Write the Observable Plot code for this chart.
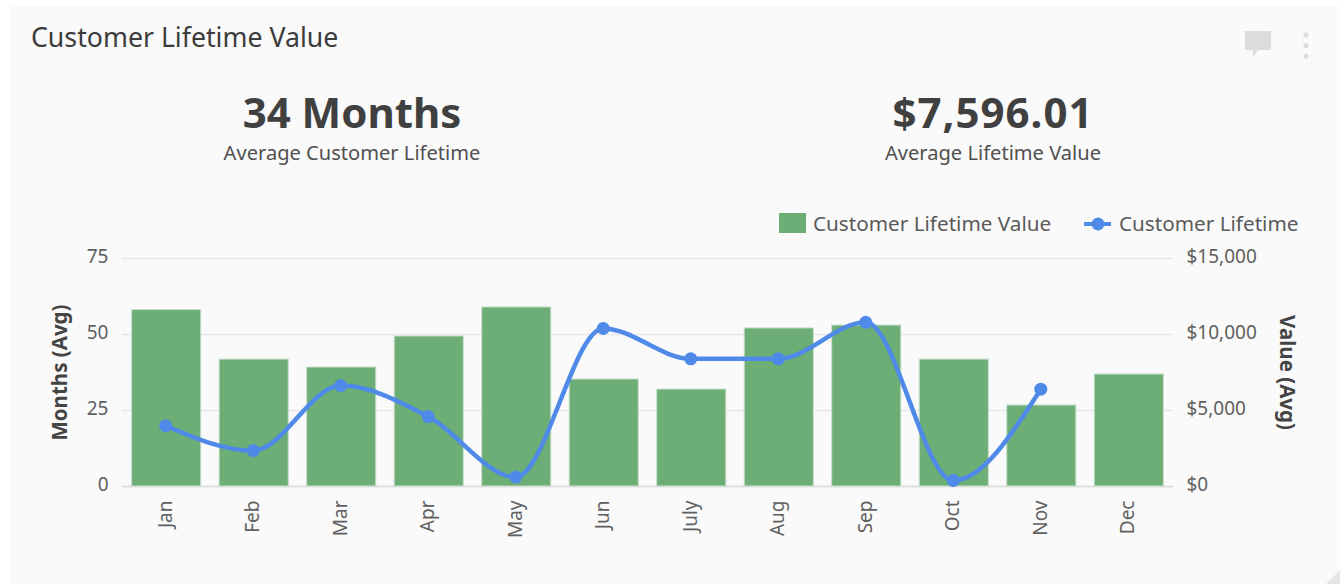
<!DOCTYPE html>
<html><head><meta charset="utf-8">
<script src="https://cdn.jsdelivr.net/npm/d3@7"></script>
<script src="https://cdn.jsdelivr.net/npm/@observablehq/plot@0.6"></script>
<style>
html,body{margin:0;padding:0;background:#fff;width:1340px;height:584px;overflow:hidden}
body{font-family:"Noto Sans",sans-serif;position:relative}
#card{position:absolute;left:9px;top:6px;width:1331px;height:578px;background:#fafafa}
.t{position:absolute;white-space:nowrap}
#title{left:31px;top:19px;font-size:26.7px;color:#3c3c3c;line-height:36px}
.kpi{font-weight:700;font-size:42px;color:#404040;line-height:50px;transform:translateX(-50%)}
.sub{font-size:20.1px;color:#505050;line-height:26px;transform:translateX(-50%)}
.leg{font-size:20.7px;color:#5a5a5a;line-height:26px;top:210px}
#chart{position:absolute;left:0;top:240px}
svg.ic{position:absolute}
</style></head><body>
<div id="card"></div>
<div class="t" id="title">Customer Lifetime Value</div>
<div class="t kpi" style="left:352px;top:87px">34 Months</div>
<div class="t sub" style="left:352px;top:140px">Average Customer Lifetime</div>
<div class="t kpi" style="left:993px;top:87px;letter-spacing:1px">$7,596.01</div>
<div class="t sub" style="left:993px;top:140px">Average Lifetime Value</div>
<svg class="ic" style="left:1240px;top:27px" width="80" height="34">
<path d="M5 4H31V23H18L13 30V23H5Z" fill="#dcdcdc"/>
<circle cx="66" cy="8" r="2.6" fill="#dcdcdc"/><circle cx="66" cy="18.5" r="2.6" fill="#dcdcdc"/><circle cx="66" cy="29" r="2.6" fill="#dcdcdc"/>
</svg>
<svg class="ic" style="left:779px;top:213px" width="28" height="20"><rect width="27" height="20" fill="#6dae76"/></svg>
<div class="t leg" style="left:813px">Customer Lifetime Value</div>
<svg class="ic" style="left:1084px;top:213px" width="28" height="20"><line x1="0" x2="27" y1="11" y2="11" stroke="#4f8ae8" stroke-width="4"/><circle cx="14" cy="11" r="6.5" fill="#4f8ae8"/></svg>
<div class="t leg" style="left:1119px">Customer Lifetime</div>
<svg class="ic" style="left:1324px;top:568px" width="16" height="16"><path d="M16 2V16H2Z" fill="#e6e6e6"/></svg>
<div id="chart"></div>
<script>
const months = ["Jan","Feb","Mar","Apr","May","Jun","July","Aug","Sep","Oct","Nov","Dec"];
const lifetimeValue = [11610,8350,7830,9870,11780,7040,6380,10400,10590,8350,5330,7370];
const lifetimeMonths = [20,11.8,33.2,23,3.1,52,42,42,54,2,32,null];
const leftTicks = [0,25,50,75];
const toMonths = v => v * 75 / 15000;
const rows = months.map((m,i)=>({m, value: lifetimeValue[i], life: lifetimeMonths[i]}));
const lineRows = rows.filter(d=>d.life!=null);
const tickFill = "#606060";
const plot = Plot.plot({
  width:1340, height:320,
  marginLeft:122, marginRight:167, marginTop:18, marginBottom:74,
  style:{background:"transparent", fontFamily:"'Noto Sans',sans-serif", fontSize:"17px"},
  x:{domain:months, paddingInner:0.21, paddingOuter:0.11, round:false, label:null},
  y:{domain:[0,75], label:null},
  marks:[
    Plot.gridY(leftTicks,{stroke:"#e8e8e8", strokeOpacity:1, strokeWidth:1.5}),
    Plot.ruleY([0],{stroke:"#dcdcdc", strokeWidth:1.5}),
    Plot.barY(rows,{x:"m", y:d=>toMonths(d.value), fill:"#6dae76", stroke:"#c9dfcc", strokeWidth:1}),
    Plot.line(lineRows,{x:"m", y:"life", dx:-1, stroke:"#4f8ae8", strokeWidth:4.5, curve:"monotone-x"}),
    Plot.dot(lineRows,{x:"m", y:"life", dx:-1, fill:"#4f8ae8", r:6.5}),
    Plot.axisX({tickSize:0, tickRotate:-90, tickPadding:14, dx:-1, label:null, fill:tickFill, fontSize:19}),
    Plot.axisY(leftTicks,{anchor:"left", tickSize:0, tickPadding:14, dy:-1.5, label:null, fill:tickFill, fontSize:19}),
    Plot.axisY(leftTicks,{anchor:"right", tickSize:0, tickPadding:13, dy:-1.5, label:null, fill:tickFill, fontSize:19, tickFormat:d=>"$"+d3.format(",")(d*200)}),
    Plot.text(["Months (Avg)"],{frameAnchor:"left", textAnchor:"middle", dx:-62, rotate:-90, fill:"#444", fontWeight:700, fontSize:20.5}),
    Plot.text(["Value (Avg)"],{frameAnchor:"right", textAnchor:"middle", dx:113, rotate:90, fill:"#444", fontWeight:700, fontSize:20.5})
  ]
});
document.getElementById("chart").append(plot);
</script>
</body></html>
